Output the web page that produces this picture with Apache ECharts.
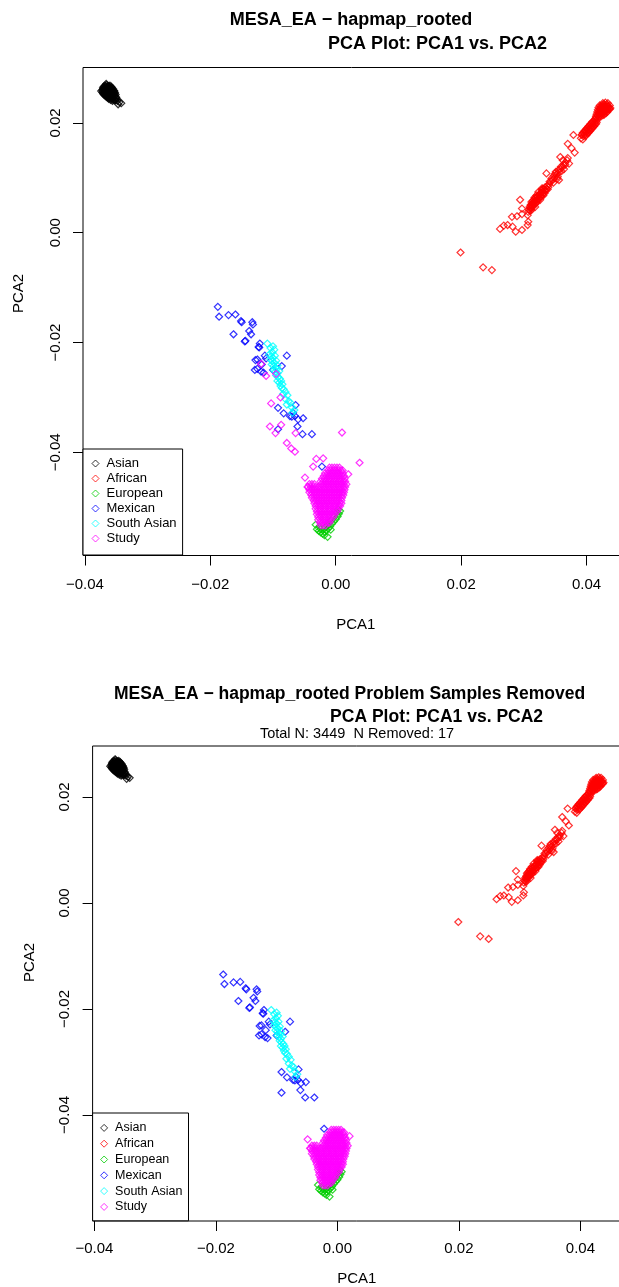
<!DOCTYPE html>
<html>
<head>
<meta charset="utf-8">
<script src="https://cdn.jsdelivr.net/npm/echarts@6/dist/echarts.min.js"></script>
<style>
  html, body { margin: 0; padding: 0; background: #fff; }
  #main { width: 619px; height: 1287px; }
</style>
</head>
<body>
<div id="main"></div>
<script>
// PCA1 / PCA2 values per group
const asian = [
  [-0.0368,0.0268],[-0.0365,0.0269],[-0.0362,0.0267],[-0.0360,0.0268],
  [-0.0370,0.0266],[-0.0367,0.0266],[-0.0364,0.0266],[-0.0361,0.0266],[-0.0358,0.0266],
  [-0.0371,0.0264],[-0.0368,0.0263],[-0.0365,0.0265],[-0.0362,0.0264],[-0.0359,0.0263],[-0.0357,0.0264],
  [-0.0371,0.0262],[-0.0367,0.0262],[-0.0364,0.0262],[-0.0361,0.0262],[-0.0358,0.0262],[-0.0355,0.0262],
  [-0.0372,0.0260],[-0.0369,0.0261],[-0.0366,0.0260],[-0.0363,0.0259],[-0.0360,0.0260],[-0.0357,0.0261],[-0.0354,0.0259],
  [-0.0371,0.0258],[-0.0368,0.0258],[-0.0365,0.0258],[-0.0362,0.0258],[-0.0359,0.0258],[-0.0356,0.0258],[-0.0353,0.0258],
  [-0.0372,0.0256],[-0.0369,0.0255],[-0.0366,0.0256],[-0.0363,0.0257],[-0.0360,0.0256],[-0.0357,0.0255],[-0.0354,0.0256],[-0.0352,0.0255],
  [-0.0371,0.0254],[-0.0368,0.0254],[-0.0365,0.0254],[-0.0362,0.0254],[-0.0359,0.0254],[-0.0356,0.0254],[-0.0353,0.0254],
  [-0.0370,0.0252],[-0.0367,0.0251],[-0.0364,0.0252],[-0.0361,0.0253],[-0.0358,0.0252],[-0.0355,0.0251],[-0.0351,0.0252],
  [-0.0368,0.0250],[-0.0365,0.0250],[-0.0362,0.0250],[-0.0359,0.0250],[-0.0356,0.0250],[-0.0352,0.0250],
  [-0.0366,0.0248],[-0.0363,0.0247],[-0.0360,0.0248],[-0.0357,0.0249],[-0.0354,0.0248],[-0.0350,0.0247],
  [-0.0364,0.0246],[-0.0361,0.0246],[-0.0358,0.0246],[-0.0355,0.0246],[-0.0351,0.0246],
  [-0.0362,0.0244],[-0.0359,0.0245],[-0.0356,0.0244],[-0.0353,0.0243],[-0.0349,0.0244],
  [-0.0359,0.0242],[-0.0355,0.0242],[-0.0351,0.0242],
  [-0.0356,0.0240],[-0.0352,0.0241],[-0.0348,0.0240],
  [-0.0345,0.0238],[-0.0342,0.0236],[-0.0347,0.0234],[-0.0366,0.0271],[-0.0374,0.0258]
];
const african = [
  [0.0426,0.0236],[0.0430,0.0237],[0.0434,0.0236],[0.0428,0.0234],[0.0432,0.0234],
  [0.0421,0.0232],[0.0425,0.0233],[0.0429,0.0232],[0.0433,0.0231],[0.0437,0.0232],
  [0.0423,0.0230],[0.0427,0.0230],[0.0431,0.0230],[0.0435,0.0230],
  [0.0419,0.0228],[0.0423,0.0227],[0.0427,0.0228],[0.0431,0.0229],[0.0435,0.0228],[0.0438,0.0227],
  [0.0421,0.0226],[0.0425,0.0226],[0.0429,0.0226],[0.0433,0.0226],[0.0436,0.0226],
  [0.0418,0.0224],[0.0422,0.0225],[0.0426,0.0224],[0.0430,0.0223],[0.0434,0.0224],[0.0437,0.0225],
  [0.0420,0.0222],[0.0424,0.0222],[0.0428,0.0222],[0.0432,0.0222],
  [0.0417,0.0220],[0.0421,0.0219],[0.0425,0.0220],[0.0429,0.0221],[0.0433,0.0220],
  [0.0419,0.0218],[0.0423,0.0218],[0.0427,0.0218],[0.0431,0.0218],
  [0.0416,0.0216],[0.0420,0.0217],[0.0424,0.0216],[0.0428,0.0215],
  [0.0418,0.0214],[0.0422,0.0214],[0.0426,0.0214],
  [0.0415,0.0212],[0.0419,0.0211],[0.0423,0.0212],
  [0.0392,0.0178],[0.0395,0.0176],[0.0394,0.0182],[0.0397,0.0180],[0.0400,0.0178],[0.0397,0.0186],
  [0.0400,0.0184],[0.0403,0.0182],[0.0400,0.0190],[0.0403,0.0188],[0.0406,0.0186],[0.0403,0.0194],
  [0.0406,0.0192],[0.0409,0.0190],[0.0406,0.0198],[0.0409,0.0196],[0.0412,0.0194],[0.0409,0.0202],
  [0.0412,0.0200],[0.0415,0.0198],[0.0413,0.0206],[0.0416,0.0204],[0.0415,0.0210],[0.0418,0.0208],
  [0.0396,0.0183],[0.0399,0.0187],[0.0402,0.0191],[0.0405,0.0195],[0.0408,0.0199],[0.0411,0.0203],
  [0.0414,0.0207],[0.0393,0.0179],[0.0398,0.0176],[0.0401,0.0181],[0.0404,0.0185],[0.0407,0.0189],
  [0.0410,0.0193],[0.0413,0.0197],[0.0416,0.0201],
  [0.0391,0.0172],[0.0394,0.0170],
  [0.0379,0.0178],[0.0370,0.0162],[0.0376,0.0154],[0.0381,0.0146],
  [0.0358,0.0138],[0.0362,0.0132],[0.0366,0.0128],[0.0370,0.0136],[0.0372,0.0126],
  [0.0369,0.0132],[0.0366,0.0124],[0.0362,0.0120],[0.0358,0.0116],[0.0356,0.0110],[0.0352,0.0106],
  [0.0349,0.0100],[0.0346,0.0096],[0.0360,0.0112],[0.0364,0.0116],[0.0354,0.0102],[0.0350,0.0108],
  [0.0347,0.0091],[0.0343,0.0094],[0.0336,0.0108],[0.0356,0.0096],
  [0.0359,0.0120],[0.0355,0.0114],[0.0351,0.0111],[0.0348,0.0104],[0.0344,0.0099],[0.0341,0.0093],
  [0.0363,0.0124],[0.0353,0.0098],
  [0.0340,0.0088],[0.0337,0.0085],[0.0334,0.0083],[0.0338,0.0079],[0.0335,0.0077],[0.0332,0.0080],
  [0.0330,0.0075],[0.0333,0.0072],[0.0329,0.0070],[0.0326,0.0072],[0.0327,0.0066],[0.0324,0.0068],
  [0.0321,0.0065],[0.0324,0.0062],[0.0320,0.0060],[0.0318,0.0063],[0.0317,0.0057],[0.0314,0.0058],
  [0.0320,0.0054],[0.0316,0.0052],[0.0313,0.0053],[0.0311,0.0049],[0.0314,0.0047],[0.0310,0.0045],
  [0.0308,0.0042],[0.0312,0.0041],[0.0307,0.0038],[0.0328,0.0078],[0.0331,0.0068],[0.0322,0.0058],
  [0.0318,0.0047],[0.0326,0.0060],
  [0.0339,0.0083],[0.0336,0.0080],[0.0333,0.0077],[0.0330,0.0079],[0.0331,0.0072],[0.0328,0.0073],
  [0.0325,0.0070],[0.0328,0.0066],[0.0325,0.0064],[0.0322,0.0066],[0.0322,0.0061],[0.0319,0.0058],
  [0.0316,0.0060],[0.0318,0.0053],[0.0315,0.0055],[0.0312,0.0056],[0.0314,0.0050],[0.0311,0.0051],
  [0.0312,0.0045],[0.0309,0.0047],[0.0310,0.0040],[0.0329,0.0081],[0.0323,0.0074],[0.0320,0.0068],
  [0.0317,0.0064],
  [0.0294,0.0060],[0.0297,0.0044],[0.0281,0.0029],[0.0289,0.0030],[0.0297,0.0034],[0.0306,0.0032],
  [0.0307,0.0020],[0.0306,0.0014],[0.0262,0.0007],[0.0268,0.0013],[0.0274,0.0014],[0.0282,0.0011],
  [0.0287,0.0002],[0.0297,0.0005],
  [0.0199,-0.0036],[0.0235,-0.0063],[0.0249,-0.0068]
];
const european = [
  [-0.0030,-0.0540],[-0.0027,-0.0543],[-0.0024,-0.0546],[-0.0021,-0.0548],[-0.0018,-0.0545],
  [-0.0015,-0.0542],[-0.0012,-0.0539],[-0.0009,-0.0535],[-0.0006,-0.0530],[-0.0003,-0.0526],
  [0.0000,-0.0522],[0.0003,-0.0517],[0.0005,-0.0512],[0.0007,-0.0507],[-0.0020,-0.0541],
  [-0.0017,-0.0537],[-0.0013,-0.0533],[-0.0010,-0.0529],[-0.0007,-0.0524],[-0.0004,-0.0519],
  [0.0002,-0.0510],[-0.0013,-0.0554],[-0.0026,-0.0535],[-0.0024,-0.0540],[-0.0018,-0.0551],
  [0.0004,-0.0504],[-0.0032,-0.0532],[-0.0008,-0.0541]
];
const mexican = [
  [-0.0188,-0.0135],[-0.0186,-0.0153],[-0.0171,-0.0150],[-0.0160,-0.0149],[-0.0151,-0.0161],
  [-0.0150,-0.0163],[-0.0133,-0.0163],[-0.0132,-0.0167],[-0.0138,-0.0179],[-0.0135,-0.0185],
  [-0.0163,-0.0185],[-0.0144,-0.0197],[-0.0121,-0.0202],[-0.0123,-0.0208],[-0.0122,-0.0209],
  [-0.0113,-0.0224],[-0.0111,-0.0229],[-0.0128,-0.0232],[-0.0125,-0.0248],[-0.0119,-0.0253],
  [-0.0078,-0.0224],[-0.0092,-0.0319],[-0.0083,-0.0329],[-0.0073,-0.0334],[-0.0065,-0.0334],
  [-0.0052,-0.0338],[-0.0061,-0.0353],[-0.0092,-0.0358],[-0.0053,-0.0367],[-0.0038,-0.0367],
  [-0.0064,-0.0314],[-0.0022,-0.0426],
  [-0.0129,-0.0250],[-0.0115,-0.0255],[-0.0086,-0.0243],[-0.0145,-0.0198],[-0.0125,-0.0231],
  [-0.0118,-0.0240],[-0.0070,-0.0335],[-0.0060,-0.0340],[-0.0068,-0.0328],[-0.0100,-0.0250]
];
const southAsian = [
  [-0.0109,-0.0202],[-0.0104,-0.0210],[-0.0098,-0.0213],[-0.0101,-0.0218],[-0.0106,-0.0222],
  [-0.0103,-0.0225],[-0.0100,-0.0228],[-0.0097,-0.0224],[-0.0104,-0.0231],[-0.0101,-0.0234],
  [-0.0098,-0.0237],[-0.0095,-0.0233],[-0.0102,-0.0240],[-0.0099,-0.0243],[-0.0096,-0.0246],
  [-0.0093,-0.0242],[-0.0099,-0.0250],[-0.0096,-0.0253],[-0.0093,-0.0256],[-0.0090,-0.0252],
  [-0.0095,-0.0260],[-0.0092,-0.0263],[-0.0089,-0.0266],[-0.0093,-0.0270],[-0.0090,-0.0273],
  [-0.0087,-0.0270],[-0.0088,-0.0279],[-0.0085,-0.0276],[-0.0083,-0.0285],[-0.0080,-0.0290],
  [-0.0084,-0.0294],[-0.0077,-0.0296],[-0.0080,-0.0303],[-0.0075,-0.0307],[-0.0072,-0.0310],
  [-0.0078,-0.0313],[-0.0070,-0.0318],[-0.0066,-0.0323],[-0.0069,-0.0328],[-0.0086,-0.0283],
  [-0.0094,-0.0248],[-0.0100,-0.0207]
];
// study samples that were kept in the second plot
const studyKept = [
  [-0.0010,-0.0428],[-0.0006,-0.0428],[-0.0002,-0.0428],[0.0002,-0.0428],[0.0006,-0.0428],
  [-0.0012,-0.0433],[-0.0008,-0.0433],[-0.0004,-0.0433],[0.0000,-0.0433],[0.0004,-0.0433],[0.0008,-0.0433],[0.0011,-0.0433],
  [-0.0017,-0.0438],[-0.0013,-0.0438],[-0.0009,-0.0438],[-0.0005,-0.0438],[-0.0001,-0.0438],[0.0003,-0.0438],[0.0007,-0.0438],[0.0011,-0.0438],
  [-0.0019,-0.0443],[-0.0015,-0.0443],[-0.0011,-0.0443],[-0.0007,-0.0443],[-0.0003,-0.0443],[0.0001,-0.0443],[0.0005,-0.0443],[0.0009,-0.0443],[0.0013,-0.0443],
  [-0.0022,-0.0448],[-0.0018,-0.0448],[-0.0014,-0.0448],[-0.0010,-0.0448],[-0.0006,-0.0448],[-0.0002,-0.0448],[0.0002,-0.0448],[0.0006,-0.0448],[0.0010,-0.0448],[0.0014,-0.0448],
  [-0.0024,-0.0453],[-0.0020,-0.0453],[-0.0016,-0.0453],[-0.0012,-0.0453],[-0.0008,-0.0453],[-0.0004,-0.0453],[0.0000,-0.0453],[0.0004,-0.0453],[0.0008,-0.0453],[0.0012,-0.0453],[0.0015,-0.0453],
  [-0.0042,-0.0458],[-0.0038,-0.0458],[-0.0034,-0.0458],[-0.0023,-0.0458],[-0.0019,-0.0458],[-0.0015,-0.0458],[-0.0011,-0.0458],[-0.0007,-0.0458],[-0.0003,-0.0458],[0.0001,-0.0458],[0.0005,-0.0458],[0.0009,-0.0458],[0.0013,-0.0458],
  [-0.0044,-0.0463],[-0.0040,-0.0463],[-0.0036,-0.0463],[-0.0032,-0.0463],[-0.0028,-0.0463],[-0.0024,-0.0463],[-0.0020,-0.0463],[-0.0016,-0.0463],[-0.0012,-0.0463],[-0.0008,-0.0463],[-0.0004,-0.0463],[0.0000,-0.0463],[0.0004,-0.0463],[0.0008,-0.0463],[0.0012,-0.0463],[0.0015,-0.0463],
  [-0.0042,-0.0468],[-0.0038,-0.0468],[-0.0034,-0.0468],[-0.0030,-0.0468],[-0.0026,-0.0468],[-0.0022,-0.0468],[-0.0018,-0.0468],[-0.0014,-0.0468],[-0.0010,-0.0468],[-0.0006,-0.0468],[-0.0002,-0.0468],[0.0002,-0.0468],[0.0006,-0.0468],[0.0010,-0.0468],[0.0014,-0.0468],
  [-0.0042,-0.0473],[-0.0038,-0.0473],[-0.0034,-0.0473],[-0.0030,-0.0473],[-0.0026,-0.0473],[-0.0022,-0.0473],[-0.0018,-0.0473],[-0.0014,-0.0473],[-0.0010,-0.0473],[-0.0006,-0.0473],[-0.0002,-0.0473],[0.0002,-0.0473],[0.0006,-0.0473],[0.0010,-0.0473],[0.0013,-0.0473],
  [-0.0039,-0.0478],[-0.0035,-0.0478],[-0.0031,-0.0478],[-0.0027,-0.0478],[-0.0023,-0.0478],[-0.0019,-0.0478],[-0.0015,-0.0478],[-0.0011,-0.0478],[-0.0007,-0.0478],[-0.0003,-0.0478],[0.0001,-0.0478],[0.0005,-0.0478],[0.0009,-0.0478],[0.0012,-0.0478],
  [-0.0038,-0.0483],[-0.0034,-0.0483],[-0.0030,-0.0483],[-0.0026,-0.0483],[-0.0022,-0.0483],[-0.0018,-0.0483],[-0.0014,-0.0483],[-0.0010,-0.0483],[-0.0006,-0.0483],[-0.0002,-0.0483],[0.0002,-0.0483],[0.0006,-0.0483],[0.0010,-0.0483],
  [-0.0035,-0.0488],[-0.0031,-0.0488],[-0.0027,-0.0488],[-0.0023,-0.0488],[-0.0019,-0.0488],[-0.0015,-0.0488],[-0.0011,-0.0488],[-0.0007,-0.0488],[-0.0003,-0.0488],[0.0001,-0.0488],[0.0005,-0.0488],[0.0009,-0.0488],
  [-0.0034,-0.0493],[-0.0030,-0.0493],[-0.0026,-0.0493],[-0.0022,-0.0493],[-0.0018,-0.0493],[-0.0014,-0.0493],[-0.0010,-0.0493],[-0.0006,-0.0493],[-0.0002,-0.0493],[0.0002,-0.0493],[0.0006,-0.0493],[0.0009,-0.0493],
  [-0.0032,-0.0498],[-0.0028,-0.0498],[-0.0024,-0.0498],[-0.0020,-0.0498],[-0.0016,-0.0498],[-0.0012,-0.0498],[-0.0008,-0.0498],[-0.0004,-0.0498],[0.0000,-0.0498],[0.0004,-0.0498],[0.0007,-0.0498],
  [-0.0032,-0.0503],[-0.0028,-0.0503],[-0.0024,-0.0503],[-0.0020,-0.0503],[-0.0016,-0.0503],[-0.0012,-0.0503],[-0.0008,-0.0503],[-0.0004,-0.0503],[0.0000,-0.0503],[0.0004,-0.0503],
  [-0.0030,-0.0508],[-0.0026,-0.0508],[-0.0022,-0.0508],[-0.0018,-0.0508],[-0.0014,-0.0508],[-0.0010,-0.0508],[-0.0006,-0.0508],[-0.0002,-0.0508],[0.0002,-0.0508],
  [-0.0030,-0.0513],[-0.0026,-0.0513],[-0.0022,-0.0513],[-0.0018,-0.0513],[-0.0014,-0.0513],[-0.0010,-0.0513],[-0.0006,-0.0513],[-0.0002,-0.0513],
  [-0.0028,-0.0518],[-0.0024,-0.0518],[-0.0020,-0.0518],[-0.0016,-0.0518],[-0.0012,-0.0518],[-0.0008,-0.0518],[-0.0004,-0.0518],
  [-0.0028,-0.0523],[-0.0024,-0.0523],[-0.0020,-0.0523],[-0.0016,-0.0523],[-0.0012,-0.0523],[-0.0008,-0.0523],
  [-0.0025,-0.0528],[-0.0021,-0.0528],[-0.0017,-0.0528],[-0.0013,-0.0528],[-0.0010,-0.0528],
  [-0.0024,-0.0533],[-0.0020,-0.0533],[-0.0016,-0.0533],
  [-0.0049,-0.0446],[0.0020,-0.0440],[-0.0045,-0.0463],[0.0017,-0.0458]
];
// the 17 problem samples, only in the first plot
const studyRemoved = [
  [-0.0119,-0.0239],[-0.0111,-0.0261],[-0.0088,-0.0300],[-0.0103,-0.0311],[-0.0105,-0.0353],
  [-0.0096,-0.0365],[-0.0087,-0.0350],[-0.0064,-0.0365],[0.0010,-0.0364],[-0.0078,-0.0383],
  [-0.0071,-0.0393],[-0.0065,-0.0399],[0.0038,-0.0419],[-0.0031,-0.0412],[-0.0020,-0.0411],
  [-0.0036,-0.0426],[-0.0095,-0.0257]
];

const groupNames = ['Asian', 'African', 'European', 'Mexican', 'South Asian', 'Study'];
const groupColors = ['#000000', '#FF0000', '#00CD00', '#0000FF', '#00FFFF', '#FF00FF'];
const xTicks = [-0.04, -0.02, 0, 0.02, 0.04];
const yTicks = [-0.04, -0.02, 0, 0.02];

const chart = echarts.init(document.getElementById('main'), null, { renderer: 'canvas' });

function tickLabel(v) {
  return (v < 0 ? '\u2212' : '') + Math.abs(v).toFixed(2);
}

// namePad moves the rotated PCA2 name up the axis
function makeAxis(dim, idx, min, max, gap, margin, namePad) {
  return {
    type: 'value',
    gridIndex: idx,
    min: min,
    max: max,
    name: dim === 'x' ? 'PCA1' : 'PCA2',
    nameLocation: 'middle',
    nameGap: gap,
    nameTextStyle: {
      fontFamily: 'Liberation Sans', fontSize: 15, color: '#000',
      padding: [0, 0, 0, namePad || 0]
    },
    axisLine: { show: false, onZero: false },
    splitLine: { show: false },
    axisTick: {
      show: true, inside: false, length: 10,
      customValues: dim === 'x' ? xTicks : yTicks,
      lineStyle: { color: '#000', width: 1 }
    },
    axisLabel: {
      show: true,
      customValues: dim === 'x' ? xTicks : yTicks,
      formatter: tickLabel,
      rotate: dim === 'x' ? 0 : 90,
      margin: margin,
      fontFamily: 'Liberation Sans',
      fontSize: 15,
      color: '#000'
    }
  };
}

function makeSeries(data, k, idx) {
  return {
    type: 'scatter',
    name: groupNames[k],
    xAxisIndex: idx,
    yAxisIndex: idx,
    data: data,
    symbol: 'diamond',
    symbolSize: 7,
    silent: true,
    itemStyle: { color: 'transparent', borderColor: groupColors[k], borderWidth: 1.2 }
  };
}

function makeLegend(left, top, fontSize, lineH, pad) {
  return {
    orient: 'vertical',
    left: left,
    top: top,
    data: groupNames,
    itemWidth: 7,
    itemHeight: 7,
    itemGap: 0,
    padding: pad,
    borderColor: '#000',
    borderWidth: 1,
    backgroundColor: '#fff',
    selectedMode: false,
    itemStyle: { borderWidth: 1 },
    textStyle: {
      fontFamily: 'Liberation Sans', fontSize: fontSize, lineHeight: lineH,
      color: '#000', padding: [0, 0, 0, 2.5]
    }
  };
}

const groups1 = [asian, african, european, mexican, southAsian, studyKept.concat(studyRemoved)];
const groups2 = [asian, african, european, mexican, southAsian, studyKept];
const series = [];
groups1.forEach(function (d, k) { series.push(makeSeries(d, k, 0)); });
groups2.forEach(function (d, k) { series.push(makeSeries(d, k, 1)); });

function titleText(text, x, y, size, bold) {
  return {
    type: 'text',
    x: x,
    y: y,
    silent: true,
    style: {
      text: text,
      fill: '#000',
      font: (bold ? 'bold ' : '') + size + 'px "Liberation Sans"',
      align: 'center',
      verticalAlign: 'middle'
    }
  };
}

const option = {
  animation: false,
  backgroundColor: '#fff',
  grid: [
    { left: 83, top: 67.5, width: 545.6, height: 488, show: true, borderColor: '#000', borderWidth: 1, outerBoundsMode: 'none' },
    { left: 92.6, top: 746, width: 528.5, height: 475, show: true, borderColor: '#000', borderWidth: 1, outerBoundsMode: 'none' }
  ],
  xAxis: [
    makeAxis('x', 0, -0.0403, 0.0467, 62, 22),
    makeAxis('x', 1, -0.0403, 0.0467, 50, 20)
  ],
  yAxis: [
    makeAxis('y', 0, -0.0588, 0.0301, 57, 20, 36),
    makeAxis('y', 1, -0.0600, 0.0296, 55, 20, 42)
  ],
  legend: [
    makeLegend(83, 449, 13, 15, [7, 6, 9, 8.5]),
    makeLegend(92.6, 1113, 12.5, 15.8, [7, 6, 6, 7.5])
  ],
  graphic: [
    titleText('MESA_EA \u2212 hapmap_rooted', 351, 20, 18, true),
    titleText('PCA Plot: PCA1 vs. PCA2', 437.6, 44, 18, true),
    titleText('MESA_EA \u2212 hapmap_rooted Problem Samples Removed', 349.5, 694, 17.5, true),
    titleText('PCA Plot: PCA1 vs. PCA2', 436.6, 717, 17.5, true),
    titleText('Total N: 3449  N Removed: 17', 357, 734, 14.5, false)
  ],
  series: series
};

chart.setOption(option);
</script>
</body>
</html>
